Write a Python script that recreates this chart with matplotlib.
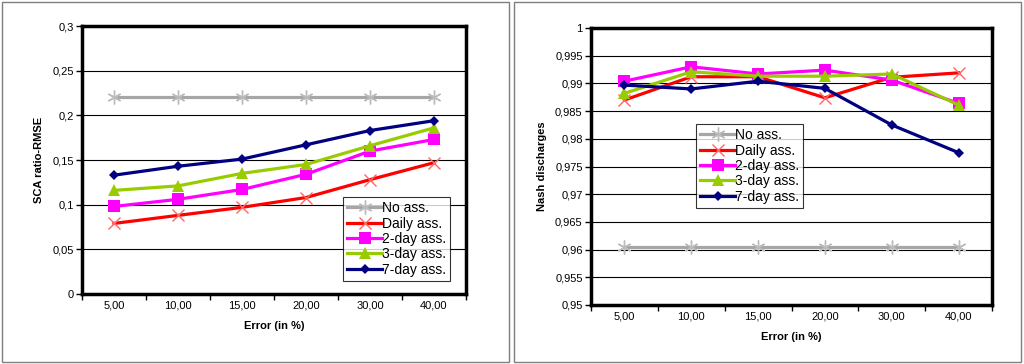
import matplotlib
matplotlib.use("Agg")
import matplotlib.pyplot as plt
from matplotlib.patches import Rectangle

plt.rcParams['font.family'] = ['Liberation Sans', 'DejaVu Sans']

categories = ['5,00', '10,00', '15,00', '20,00', '30,00', '40,00']
series_names = ['No ass.', 'Daily ass.', '2-day ass.', '3-day ass.', '7-day ass.']

sca_no = [0.221, 0.221, 0.221, 0.221, 0.221, 0.221]
sca_daily = [0.079, 0.088, 0.097, 0.108, 0.128, 0.147]
sca_2day = [0.098, 0.106, 0.117, 0.134, 0.160, 0.173]
sca_3day = [0.116, 0.121, 0.135, 0.145, 0.166, 0.186]
sca_7day = [0.133, 0.143, 0.151, 0.167, 0.183, 0.194]

nash_no = [0.9604, 0.9604, 0.9604, 0.9604, 0.9604, 0.9604]
nash_daily = [0.9870, 0.9912, 0.9912, 0.9874, 0.9911, 0.9919]
nash_2day = [0.9904, 0.9930, 0.9917, 0.9924, 0.9906, 0.9864]
nash_3day = [0.9882, 0.9921, 0.9913, 0.9913, 0.9917, 0.9861]
nash_7day = [0.9897, 0.9890, 0.9904, 0.9891, 0.9825, 0.9775]

sca_ticks = [0, 0.05, 0.1, 0.15, 0.2, 0.25, 0.3]
sca_ticklabels = ['0', '0,05', '0,1', '0,15', '0,2', '0,25', '0,3']
nash_ticks = [0.95, 0.955, 0.96, 0.965, 0.97, 0.975, 0.98, 0.985, 0.99, 0.995, 1.0]
nash_ticklabels = ['0,95', '0,955', '0,96', '0,965', '0,97', '0,975', '0,98',
                   '0,985', '0,99', '0,995', '1']

colors = ['#A6A6A6', '#FF0000', '#FF00FF', '#99CC00', '#000080']
styles = [
    dict(marker=(6, 2, 0), ms=10, mew=1.0, mfc='#A6A6A6', mec='#BBBBBB'),
    dict(marker='x', ms=9, mew=1.0),
    dict(marker='s', ms=8, mew=0),
    dict(marker='^', ms=8, mew=0),
    dict(marker='D', ms=5.5, mew=0),
]

fig = plt.figure(figsize=(10.24, 3.64), dpi=100)
fig.patch.set_facecolor('white')

# panel frames
for x0 in (2 / 1024, 514 / 1024):
    fig.patches.append(Rectangle((x0, 2 / 364), 507 / 1024, 360 / 364,
                                 transform=fig.transFigure, fill=False,
                                 edgecolor='#7F7F7F', lw=1.0))


def draw(ax, data, ticks, ticklabels, ylabel, legend_bbox):
    x = list(range(len(categories)))
    for vals, c, st, name in zip(data, colors, styles, series_names):
        kw = dict(st)
        kw.setdefault('mfc', c)
        kw.setdefault('mec', c)
        if name == 'Daily ass.':
            kw['mec'] = '#FF6666'
        ax.plot(x, vals, color=c, lw=2.3, label=name, **kw, zorder=3)
    ax.set_xlim(-0.5, len(categories) - 0.5)
    ax.set_ylim(ticks[0], ticks[-1])
    ax.set_yticks(ticks)
    ax.set_yticklabels(ticklabels, fontsize=8)
    ax.set_xticks(x)
    ax.set_xticklabels(categories, fontsize=8)
    ax.set_xticks([i + 0.5 for i in range(-1, len(categories))], minor=True)
    ax.tick_params(axis='x', which='major', length=0, pad=5)
    ax.tick_params(axis='x', which='minor', length=4, width=1, direction='out')
    ax.tick_params(axis='y', length=4, width=1, direction='out', pad=2)
    ax.yaxis.grid(True, color='black', lw=0.8)
    ax.set_axisbelow(True)
    for s in ax.spines.values():
        s.set_linewidth(2.5)
        s.set_color('black')
    ax.set_xlabel('Error (in %)', fontsize=8, fontweight='bold', labelpad=7)
    ax.set_ylabel(ylabel, fontsize=8, fontweight='bold', labelpad=6)
    leg = ax.legend(loc='upper left', bbox_to_anchor=legend_bbox, frameon=True,
                    fancybox=False, fontsize=10, handlelength=2.5,
                    handletextpad=0.0, borderpad=0.3, labelspacing=0.1,
                    borderaxespad=0)
    leg.get_frame().set_edgecolor('black')
    leg.get_frame().set_linewidth(0.8)


ax1 = fig.add_axes([82 / 1024, 1 - 294 / 364, 384 / 1024, 268 / 364])
draw(ax1, [sca_no, sca_daily, sca_2day, sca_3day, sca_7day],
     sca_ticks, sca_ticklabels, 'SCA ratio-RMSE',
     ((343 - 82) / 384, (294 - 197) / 268))

ax2 = fig.add_axes([591 / 1024, 1 - 305 / 364, 401 / 1024, 277 / 364])
draw(ax2, [nash_no, nash_daily, nash_2day, nash_3day, nash_7day],
     nash_ticks, nash_ticklabels, 'Nash discharges',
     ((696 - 591) / 401, (305 - 124) / 277))

fig.savefig('out.png', dpi=100, facecolor='white')
